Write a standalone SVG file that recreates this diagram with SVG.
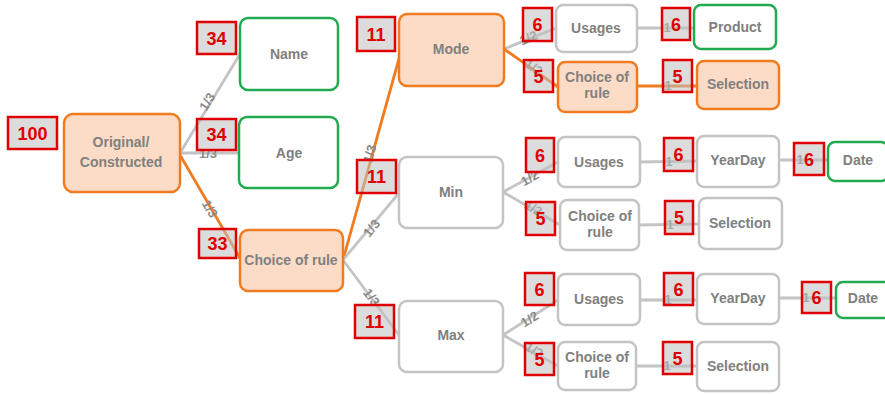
<svg xmlns="http://www.w3.org/2000/svg" width="885" height="394" viewBox="0 0 885 394">
<style>
.n rect{stroke-width:2.5}
.o rect{fill:#fcdcc6;stroke:#f07c22}
.g rect{fill:#ffffff;stroke:#22aa50}
.w rect{fill:#ffffff;stroke:#c4c4c4}
.n text{font-family:"Liberation Sans",Arial,sans-serif;font-weight:bold;font-size:14px;fill:#808080;text-anchor:middle}
.b rect{fill:#bfbfbf;fill-opacity:0.55;stroke:#e00000;stroke-width:2.5}
.b text{font-family:"Liberation Sans",Arial,sans-serif;font-weight:bold;font-size:18px;fill:#e00000;text-anchor:middle}
.e line{stroke-width:2.8;fill:none}
.eo{stroke:#f07c22}
.eg{stroke:#c4c4c4}
.lb{font-family:"Liberation Sans",Arial,sans-serif;font-weight:bold;font-size:13px;fill:#8a8a8a;text-anchor:middle}
</style>
<g id="connectors" class="e">
<line class="eg" x1="180" y1="153" x2="240" y2="54"/>
<line class="eg" x1="180" y1="153" x2="239" y2="153"/>
<line class="eo" x1="180" y1="155" x2="240" y2="258"/>
<line class="eo" x1="343" y1="260" x2="400" y2="55"/>
<line class="eg" x1="343" y1="260" x2="399" y2="193"/>
<line class="eg" x1="343" y1="260" x2="399" y2="335"/>
<line class="eg" x1="504" y1="49" x2="556" y2="28"/>
<line class="eo" x1="504" y1="49" x2="558" y2="87"/>
<line class="eg" x1="637" y1="28" x2="694" y2="28"/>
<line class="eo" x1="637" y1="86" x2="697" y2="86"/>
<line class="eg" x1="503" y1="192" x2="558" y2="162"/>
<line class="eg" x1="503" y1="192" x2="560" y2="225"/>
<line class="eg" x1="640" y1="162" x2="697" y2="161"/>
<line class="eg" x1="779" y1="160" x2="828" y2="160"/>
<line class="eg" x1="639" y1="225" x2="699" y2="224"/>
<line class="eg" x1="503" y1="335" x2="558" y2="300"/>
<line class="eg" x1="503" y1="335" x2="558" y2="366"/>
<line class="eg" x1="640" y1="300" x2="697" y2="300"/>
<line class="eg" x1="779" y1="298" x2="836" y2="298"/>
<line class="eg" x1="635" y1="366" x2="697" y2="366"/>
<text class="lb" transform="translate(211,104) rotate(-58)">1/3</text>
<text class="lb" x="208" y="158">1/3</text>
<text class="lb" transform="translate(206,211) rotate(60)">1/3</text>
<text class="lb" transform="translate(374,155) rotate(-74)">1/3</text>
<text class="lb" transform="translate(375,231) rotate(-50)">1/3</text>
<text class="lb" transform="translate(368,300) rotate(53)">1/3</text>
<text class="lb" transform="translate(530,42) rotate(-22)">1/2</text>
<text class="lb" transform="translate(531,71) rotate(35)">1/2</text>
<text class="lb" transform="translate(532,182) rotate(-29)">1/2</text>
<text class="lb" transform="translate(531,212) rotate(30)">1/2</text>
<text class="lb" transform="translate(532,323) rotate(-32)">1/2</text>
<text class="lb" transform="translate(532,354) rotate(29)">1/2</text>
<text class="lb" x="667" y="32">1</text>
<text class="lb" x="668" y="90">1</text>
<text class="lb" x="669" y="166">1</text>
<text class="lb" x="800" y="164">1</text>
<text class="lb" x="670" y="229">1</text>
<text class="lb" x="668" y="304">1</text>
<text class="lb" x="806" y="302">1</text>
<text class="lb" x="667" y="370">1</text>
</g>
<g id="original" class="n o"><rect x="64" y="114" width="116" height="78" rx="9"/><text x="121" y="147">Original/</text><text x="121" y="167">Constructed</text></g>
<g id="name" class="n g"><rect x="240" y="18" width="98" height="72" rx="8"/><text x="289" y="59">Name</text></g>
<g id="age" class="n g"><rect x="239" y="117" width="99" height="71" rx="8"/><text x="289" y="158">Age</text></g>
<g id="choice0" class="n o"><rect x="240" y="230" width="103" height="61" rx="8"/><text x="291" y="265">Choice of rule</text></g>
<g id="mode" class="n o"><rect x="399" y="14" width="105" height="72" rx="8"/><text x="451" y="54">Mode</text></g>
<g id="usages1" class="n w"><rect x="556" y="5" width="81" height="47" rx="7"/><text x="596" y="33">Usages</text></g>
<g id="product" class="n g"><rect x="694" y="5" width="82" height="44" rx="7"/><text x="735" y="32">Product</text></g>
<g id="choice1" class="n o"><rect x="558" y="62" width="79" height="50" rx="7"/><text x="597" y="82">Choice of</text><text x="597" y="98">rule</text></g>
<g id="selection1" class="n o"><rect x="697" y="61" width="82" height="48" rx="7"/><text x="738" y="89">Selection</text></g>
<g id="min" class="n w"><rect x="399" y="157" width="104" height="71" rx="8"/><text x="451" y="197">Min</text></g>
<g id="usages2" class="n w"><rect x="558" y="137" width="82" height="50" rx="7"/><text x="599" y="167">Usages</text></g>
<g id="yearday2" class="n w"><rect x="697" y="136" width="82" height="51" rx="7"/><text x="738" y="165">YearDay</text></g>
<g id="date2" class="n g"><rect x="828" y="142" width="60" height="39" rx="7"/><text x="858" y="165">Date</text></g>
<g id="choice2" class="n w"><rect x="560" y="200" width="79" height="50" rx="7"/><text x="600" y="221">Choice of</text><text x="600" y="237">rule</text></g>
<g id="selection2" class="n w"><rect x="699" y="198" width="83" height="51" rx="7"/><text x="740" y="228">Selection</text></g>
<g id="max" class="n w"><rect x="399" y="301" width="104" height="71" rx="8"/><text x="451" y="340">Max</text></g>
<g id="usages3" class="n w"><rect x="558" y="274" width="82" height="51" rx="7"/><text x="599" y="304">Usages</text></g>
<g id="yearday3" class="n w"><rect x="697" y="274" width="82" height="50" rx="7"/><text x="738" y="303">YearDay</text></g>
<g id="date3" class="n g"><rect x="836" y="282" width="56" height="36" rx="7"/><text x="863" y="303">Date</text></g>
<g id="choice3" class="n w"><rect x="558" y="342" width="78" height="48" rx="7"/><text x="597" y="362">Choice of</text><text x="597" y="378">rule</text></g>
<g id="selection3" class="n w"><rect x="697" y="342" width="82" height="49" rx="7"/><text x="738" y="371">Selection</text></g>
<g id="badges" class="b">
<g id="b100"><rect x="8" y="117" width="49" height="32"/><text x="32.5" y="140">100</text></g>
<g id="b34a"><rect x="197" y="22" width="39" height="32"/><text x="216.5" y="45">34</text></g>
<g id="b34b"><rect x="197" y="119" width="39" height="31"/><text x="216.5" y="141">34</text></g>
<g id="b33"><rect x="199" y="229" width="37" height="29"/><text x="217.5" y="250">33</text></g>
<g id="b11a"><rect x="357" y="17" width="38" height="34"/><text x="376" y="41">11</text></g>
<g id="b11b"><rect x="357" y="160" width="39" height="33"/><text x="376.5" y="183">11</text></g>
<g id="b11c"><rect x="355" y="305" width="39" height="33"/><text x="374.5" y="328">11</text></g>
<g id="b6a"><rect x="523" y="8" width="29" height="33"/><text x="537.5" y="31">6</text></g>
<g id="b5a"><rect x="524" y="60" width="29" height="32"/><text x="538.5" y="83">5</text></g>
<g id="b6b"><rect x="662" y="8" width="28" height="32"/><text x="676" y="31">6</text></g>
<g id="b5b"><rect x="663" y="60" width="29" height="32"/><text x="677.5" y="83">5</text></g>
<g id="b6c"><rect x="526" y="138" width="28" height="34"/><text x="540" y="162">6</text></g>
<g id="b5c"><rect x="526" y="202" width="29" height="33"/><text x="540.5" y="225">5</text></g>
<g id="b6d"><rect x="664" y="138" width="29" height="33"/><text x="678.5" y="161">6</text></g>
<g id="b6e"><rect x="794" y="143" width="30" height="32"/><text x="809" y="166">6</text></g>
<g id="b5d"><rect x="665" y="201" width="28" height="33"/><text x="679" y="224">5</text></g>
<g id="b6f"><rect x="525" y="273" width="29" height="32"/><text x="539.5" y="296">6</text></g>
<g id="b5e"><rect x="525" y="343" width="29" height="32"/><text x="539.5" y="366">5</text></g>
<g id="b6g"><rect x="664" y="273" width="29" height="32"/><text x="678.5" y="296">6</text></g>
<g id="b6h"><rect x="802" y="282" width="29" height="31"/><text x="816.5" y="304">6</text></g>
<g id="b5f"><rect x="663" y="342" width="29" height="32"/><text x="677.5" y="365">5</text></g>
</g>
</svg>
